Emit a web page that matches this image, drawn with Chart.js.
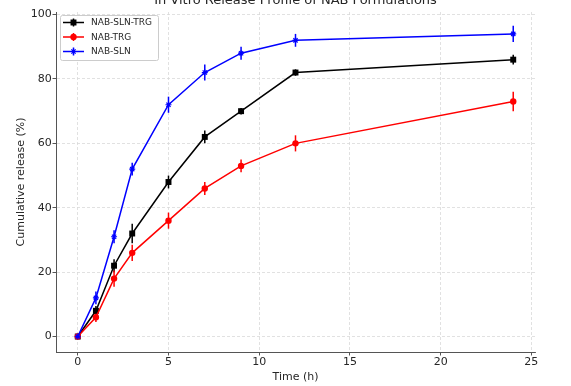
<!DOCTYPE html>
<html>
<head>
<meta charset="utf-8">
<script src="https://cdn.jsdelivr.net/npm/chart.js@4.4.1/dist/chart.umd.min.js"></script>
<style>
  html, body { margin: 0; padding: 0; background: #ffffff; }
  #wrap { position: relative; width: 571px; height: 386px; overflow: hidden; background: #ffffff; }
  #c { position: absolute; left: 0; top: -20px; }
</style>
</head>
<body>
<div id="wrap"><canvas id="c" width="571" height="406"></canvas></div>
<script>
// ---- data ----
const chartTitle = 'In Vitro Release Profile of NAB Formulations';
const xTitle = 'Time (h)';
const yTitle = 'Cumulative release (%)';
const seriesNames = ['NAB-SLN-TRG', 'NAB-TRG', 'NAB-SLN'];
const timeH = [0, 1, 2, 3, 5, 7, 9, 12, 24];
const slnTrg = [0, 8, 22, 32, 48, 62, 70, 82, 86];
const slnTrgErr = [0.5, 1.5, 2, 3, 2, 2, 1, 1, 1.5];
const trg = [0, 6, 18, 26, 36, 46, 53, 60, 73];
const trgErr = [0.5, 1.5, 2.5, 2.5, 2.5, 2, 2, 2.5, 3];
const sln = [0, 12, 31, 52, 72, 82, 88, 92, 94];
const slnErr = [0.5, 2, 2, 2, 2.5, 2.5, 2, 2, 2.5];
const xTickValues = [0, 5, 10, 15, 20, 25];
const yTickValues = [0, 20, 40, 60, 80, 100];

const FONT = 'DejaVu Sans';
const TXT = '#262626';
const AXIS = '#555555';

function pts(vals) { return timeH.map((t, i) => ({ x: t, y: vals[i] })); }

const seriesDefs = [
  { label: seriesNames[0], vals: slnTrg, err: slnTrgErr, color: '#000000', style: 'rect', radius: 4.2, order: 2 },
  { label: seriesNames[1], vals: trg, err: trgErr, color: '#ff0000', style: 'circle', radius: 3.2, order: 1 },
  { label: seriesNames[2], vals: sln, err: slnErr, color: '#0000ff', style: 'star', radius: 3, order: 0 }
];

const errorBarPlugin = {
  id: 'errorBars',
  beforeDatasetsDraw(chart) {
    const ctx = chart.ctx;
    const ys = chart.scales.y;
    ctx.save();
    chart.data.datasets.forEach((ds, di) => {
      const meta = chart.getDatasetMeta(di);
      const def = seriesDefs[di];
      ctx.strokeStyle = def.color;
      ctx.lineWidth = 1.5;
      meta.data.forEach((el, j) => {
        const v = def.vals[j], e = def.err[j];
        const y1 = ys.getPixelForValue(v - e);
        const y2 = ys.getPixelForValue(v + e);
        ctx.beginPath();
        ctx.moveTo(el.x, y1);
        ctx.lineTo(el.x, y2);
        ctx.stroke();
      });
    });
    ctx.restore();
  }
};

function drawMarker(ctx, style, x, y, r, color) {
  ctx.save();
  ctx.fillStyle = color;
  ctx.strokeStyle = color;
  ctx.lineWidth = 1.2;
  if (style === 'rect') {
    const s = Math.SQRT1_2 * r;
    ctx.fillRect(x - s, y - s, 2 * s, 2 * s);
  } else if (style === 'circle') {
    ctx.beginPath(); ctx.arc(x, y, r, 0, Math.PI * 2); ctx.fill();
  } else {
    ctx.beginPath();
    for (let k = 0; k < 4; k++) {
      const a = k * Math.PI / 4;
      ctx.moveTo(x - r * Math.cos(a), y - r * Math.sin(a));
      ctx.lineTo(x + r * Math.cos(a), y + r * Math.sin(a));
    }
    ctx.stroke();
  }
  ctx.restore();
}

const legendPlugin = {
  id: 'innerLegend',
  afterDraw(chart) {
    const ctx = chart.ctx;
    const ca = chart.chartArea;
    const bx = ca.left + 4, by = ca.top + 3, bw = 98, bh = 45;
    ctx.save();
    ctx.fillStyle = 'rgba(255,255,255,0.85)';
    ctx.strokeStyle = '#cccccc';
    ctx.lineWidth = 1;
    ctx.beginPath();
    if (ctx.roundRect) ctx.roundRect(bx + 0.5, by + 0.5, bw, bh, 2); else ctx.rect(bx + 0.5, by + 0.5, bw, bh);
    ctx.fill();
    ctx.stroke();
    const rows = [10.5, 25, 39.5];
    seriesDefs.forEach((d, i) => {
      const y = ca.top + rows[i];
      ctx.strokeStyle = d.color;
      ctx.lineWidth = 1.5;
      ctx.beginPath();
      ctx.moveTo(ca.left + 7, y);
      ctx.lineTo(ca.left + 28, y);
      ctx.moveTo(ca.left + 17.5, y - 4);
      ctx.lineTo(ca.left + 17.5, y + 4);
      ctx.stroke();
      drawMarker(ctx, d.style, ca.left + 17.5, y, d.radius, d.color);
      ctx.fillStyle = TXT;
      ctx.font = '9px "' + FONT + '"';
      ctx.textAlign = 'left';
      ctx.textBaseline = 'middle';
      ctx.fillText(d.label, ca.left + 35, y + 0.5);
    });
    ctx.restore();
  }
};

const gridCommon = {
  color: '#d9d9d9',
  lineWidth: 0.8,
  drawTicks: true,
  tickLength: 3.5,
  tickColor: AXIS,
  tickWidth: 1
};

new Chart(document.getElementById('c'), {
  type: 'line',
  data: {
    datasets: seriesDefs.map(d => ({
      label: d.label,
      data: pts(d.vals),
      borderColor: d.color,
      backgroundColor: d.color,
      borderWidth: 1.5,
      pointStyle: d.style,
      pointRadius: d.radius,
      pointBorderWidth: d.style === 'star' ? 1.2 : 0,
      pointBackgroundColor: d.color,
      pointBorderColor: d.color,
      tension: 0,
      fill: false,
      order: d.order
    }))
  },
  options: {
    responsive: false,
    animation: false,
    devicePixelRatio: 1,
    layout: { padding: { left: 0, right: 36, top: 0, bottom: 0 } },
    plugins: {
      legend: { display: false },
      tooltip: { enabled: false },
      title: {
        display: true,
        text: chartTitle,
        fullSize: false,
        color: TXT,
        font: { family: FONT, size: 13, weight: 'normal' },
        padding: { top: 12.8, bottom: 3.6 }
      }
    },
    scales: {
      x: {
        type: 'linear',
        min: -1.2,
        max: 25.2,
        afterBuildTicks(s) { s.ticks = xTickValues.map(v => ({ value: v })); },
        afterFit(s) { s.height = 34; },
        grid: gridCommon,
        border: { display: true, color: AXIS, width: 1, dash: [3, 2] },
        ticks: { color: TXT, font: { family: FONT, size: 11 }, padding: 0.5, maxRotation: 0, autoSkip: false },
        title: { display: true, text: xTitle, color: TXT, font: { family: FONT, size: 11 }, padding: { top: 0, bottom: 1.8 } }
      },
      y: {
        type: 'linear',
        min: -4.8,
        max: 100.8,
        afterBuildTicks(s) { s.ticks = yTickValues.map(v => ({ value: v })); },
        afterFit(s) { s.width = 56; },
        grid: gridCommon,
        border: { display: true, color: AXIS, width: 1, dash: [3, 2] },
        ticks: { color: TXT, font: { family: FONT, size: 11 }, padding: 0.8, autoSkip: false },
        title: { display: true, text: yTitle, color: TXT, font: { family: FONT, size: 11 }, padding: { top: 15, bottom: 0 } }
      }
    }
  },
  plugins: [errorBarPlugin, legendPlugin]
});
</script>
</body>
</html>
